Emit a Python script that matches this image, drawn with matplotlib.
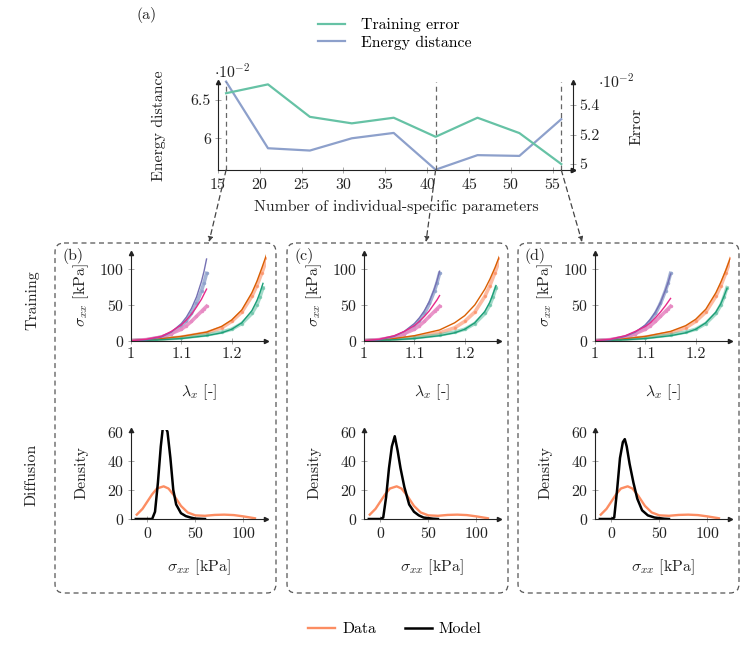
import matplotlib
matplotlib.use("Agg")
from matplotlib import pyplot as plt
from matplotlib.patches import FancyBboxPatch, ConnectionPatch
from matplotlib.lines import Line2D
from matplotlib.ticker import FuncFormatter

plt.rcParams['font.family'] = ['cmr10', 'DejaVu Serif']
plt.rcParams['mathtext.fontset'] = 'cm'
plt.rcParams['axes.formatter.use_mathtext'] = True
FS = 11.4
plt.rcParams['font.size'] = FS

W, H = 747, 648

# ---- panel (a): sweep over number of individual-specific parameters ----
n_params = [16, 21, 26, 31, 36, 41, 46, 51, 56]
energy_dist = [6.74, 5.87, 5.84, 6.00, 6.07, 5.59, 5.78, 5.77, 6.25]      # x 1e-2
train_error = [5.48, 5.54, 5.32, 5.276, 5.314, 5.185, 5.314, 5.21, 5.00]  # x 1e-2
selected = [16, 41, 56]

# ---- training curves: stretch vs stress (data shared, model per panel) ----
lam_short = [1.0, 1.03, 1.06, 1.08, 1.10, 1.11, 1.12, 1.13, 1.14, 1.145, 1.15]
lam_long = [1.0, 1.05, 1.10, 1.15, 1.18, 1.20, 1.22, 1.24, 1.25, 1.26, 1.27]
data_blue = [0, 1, 5, 10, 20, 28, 38, 52, 70, 81, 94]
data_pink = [0, 1.5, 5, 10, 16, 21, 27, 34, 41, 44.5, 48]
data_orange = [0, 2, 5, 11, 18, 27, 40, 62, 77, 95, 115]
lam_green = [1.0, 1.05, 1.10, 1.15, 1.18, 1.20, 1.22, 1.24, 1.25, 1.256, 1.262]
data_green = [0, 1.5, 4, 8, 12, 16, 24, 38, 50, 61, 74]

model_purple = {
    'b': [0, 1, 5, 12, 24, 33, 45, 61, 83, 97, 114],
    'c': [0, 1, 6, 13, 24, 32, 42, 55, 73, 84, 97],
    'd': [0, 1, 6, 12, 22, 30, 40, 53, 71, 81, 93],
}
model_magenta = {
    'b': [0, 2, 6, 13, 22, 29, 37, 47, 58, 65, 72],
    'c': [0, 2, 7, 13, 21, 27, 34, 42, 52, 57, 63],
    'd': [0, 2, 7, 13, 20, 25, 32, 40, 49, 54, 59],
}
model_orange = {
    'b': [0, 2, 6, 12, 20, 29, 43, 67, 83, 102, 122],
    'c': [0, 2, 7, 15, 25, 35, 50, 72, 86, 102, 120],
    'd': [0, 2, 6, 13, 21, 30, 44, 67, 82, 99, 118],
}
model_green = {
    'b': [0, 1, 3, 7, 11, 16, 25, 42, 56, 67, 80],
    'c': [0, 1, 3, 7, 11, 16, 25, 41, 54, 65, 77],
    'd': [0, 1, 3, 7, 11, 16, 25, 40, 52, 62, 73],
}

# ---- diffusion: density of sigma_xx ----
sig_data = [-11, -5, 0, 5, 10, 17, 22, 28, 35, 42, 50, 60, 70, 80, 90, 100, 112]
dens_data = [3, 7, 12, 17, 21, 22.5, 21, 16, 9, 4.5, 2.5, 2.2, 2.8, 3, 2.7, 1.8, 0.5]
sig_model = {
    'b': [-12, 5, 8, 11, 14, 16, 19, 21, 24, 27, 30, 35, 40, 45, 50, 60],
    'c': [-12, 0, 3, 6, 9, 12, 15, 18, 21, 25, 30, 35, 40, 45, 55, 60],
    'd': [-12, 0, 3, 6, 9, 12, 14, 16, 19, 23, 27, 32, 38, 45, 55, 60],
}
dens_model = {
    'b': [0, 0, 5, 25, 50, 62, 63, 60, 42, 20, 10, 4, 2, 1, 0.3, 0],
    'c': [0, 0, 1, 15, 35, 50, 57, 47, 35, 22, 10, 5, 2.5, 1, 0.2, 0],
    'd': [0, 0, 1, 20, 42, 53, 55, 50, 38, 25, 14, 6, 2.5, 1, 0.2, 0],
}

panels = ['b', 'c', 'd']
panel_left = {'b': 55, 'c': 287, 'd': 518}
axis_left = {'b': 131, 'c': 364, 'd': 595}
arrow_target = {'b': (209, 242), 'c': (426, 242), 'd': (582, 242)}

GREEN, BLUE, ORANGE = '#66c2a5', '#8da0cb', '#fc8d62'
TXT = '#222222'


def box(l, t, r, b):
    return [l / W, 1 - b / H, (r - l) / W, (b - t) / H]


def pgf_axes(ax, right=False):
    for s in ['top', 'right', 'left', 'bottom']:
        ax.spines[s].set_visible(False)
    ax.spines['bottom'].set_visible(True)
    side = 'right' if right else 'left'
    ax.spines[side].set_visible(True)
    for s in ['bottom', side]:
        ax.spines[s].set_color(TXT)
        ax.spines[s].set_linewidth(0.8)
    ax.tick_params(direction='inout', length=4, width=0.6, color='#999999',
                   labelcolor=TXT, labelsize=FS, pad=3)
    ax.patch.set_alpha(0)
    xa = 1 if right else 0
    ax.plot(1, 0, '>', color=TXT, ms=3, transform=ax.transAxes, clip_on=False)
    ax.plot(xa, 1, '^', color=TXT, ms=3, transform=ax.transAxes, clip_on=False)


fig = plt.figure(figsize=(W / 100, H / 100), dpi=100)

ov = fig.add_axes([0, 0, 1, 1])
ov.set_xlim(0, W)
ov.set_ylim(H, 0)
ov.axis('off')

# dashed rounded frames
for p in panels:
    l = panel_left[p]
    ov.add_patch(FancyBboxPatch((l, 243), 221, 350,
                                boxstyle='round,pad=0,rounding_size=9',
                                fill=False, ec='#555555', lw=0.9, ls=(0, (4, 3))))

ov.text(147, 15, '(a)', ha='center', va='center', color=TXT)
ov.text(32, 300, 'Training', rotation=90, ha='center', va='center', color=TXT)
ov.text(32, 475, 'Diffusion', rotation=90, ha='center', va='center', color=TXT)

# ---- top axes ----
ax1 = fig.add_axes(box(217.7, 82, 572.7, 170))
ax2 = ax1.twinx()
ax1.plot(n_params, energy_dist, color=BLUE, lw=1.6, clip_on=False)
ax2.plot(n_params, train_error, color=GREEN, lw=1.6, clip_on=False)
ax1.set_xlim(15, 57.36)
ax1.set_ylim(5.586, 6.735)
ax2.set_ylim(4.96, 5.556)
ax1.set_xticks([15, 20, 25, 30, 35, 40, 45, 50, 55])
ax1.set_yticks([6, 6.5])
ax2.set_yticks([5, 5.2, 5.4])
fmt = FuncFormatter(lambda v, pos: '%g' % v)
ax1.yaxis.set_major_formatter(fmt)
ax2.yaxis.set_major_formatter(fmt)
pgf_axes(ax1)
pgf_axes(ax2, right=True)
ax2.spines['bottom'].set_visible(False)
for n in selected:
    ax1.axvline(n, color='#666666', lw=0.9, ls=(0, (4, 3)))

ov.text(396, 207, 'Number of individual-specific parameters', ha='center', va='center', color=TXT)
ov.text(159, 126, 'Energy distance', rotation=90, ha='center', va='center', color=TXT)
ov.text(637, 126, 'Error', rotation=90, ha='center', va='center', color=TXT)
ax1.text(-0.01, 1.02, r'$\cdot10^{-2}$', transform=ax1.transAxes, ha='left', va='bottom', color=TXT)
ax2.text(1.07, 0.90, r'$\cdot10^{-2}$', transform=ax2.transAxes, ha='left', va='bottom', color=TXT)

top_handles = [Line2D([], [], color=GREEN, lw=1.6), Line2D([], [], color=BLUE, lw=1.6)]
fig.legend(top_handles, ['Training error', 'Energy distance'], loc='center',
           bbox_to_anchor=(395 / W, 1 - 34 / H), frameon=False, handlelength=1.7,
           labelspacing=0.2, handletextpad=1.0, fontsize=FS)

for p, n in zip(panels, selected):
    con = ConnectionPatch(xyA=(n, 5.586), coordsA=ax1.transData,
                          xyB=arrow_target[p], coordsB=ov.transData,
                          arrowstyle='-|>', mutation_scale=7, color='#444444',
                          lw=0.9, ls=(0, (4, 3)))
    fig.add_artist(con)

# ---- lower panels ----
for p in panels:
    l = panel_left[p]
    a = axis_left[p]
    ov.text(l + 7, 256, '(' + p + ')', ha='left', va='center', color=TXT)

    axt = fig.add_axes(box(a, 253.3, a + 135, 340.7))
    axt.plot(lam_long, data_orange, color=ORANGE, lw=2.6, alpha=0.6, marker='.', ms=3)
    axt.plot(lam_green, data_green, color=GREEN, lw=2.6, alpha=0.6, marker='.', ms=3)
    axt.plot(lam_short, data_blue, color=BLUE, lw=2.6, alpha=0.8, marker='.', ms=3)
    axt.plot(lam_short, data_pink, color='#e78ac3', lw=2.6, alpha=0.9, marker='.', ms=3)
    axt.plot(lam_long, model_orange[p], color='#d95f02', lw=1.0)
    axt.plot(lam_green, model_green[p], color='#1b9e77', lw=1.0)
    axt.plot(lam_short, model_purple[p], color='#7570b3', lw=1.0)
    axt.plot(lam_short, model_magenta[p], color='#e7298a', lw=1.0)
    axt.set_xlim(1, 1.268)
    axt.set_ylim(0, 122)
    axt.set_xticks([1, 1.1, 1.2])
    axt.set_yticks([0, 50, 100])
    axt.xaxis.set_major_formatter(fmt)
    pgf_axes(axt)
    axt.text(-0.37, 0.52, r'$\sigma_{xx}$ [kPa]', transform=axt.transAxes, rotation=90,
             ha='center', va='center', color=TXT)
    axt.text(0.5, -0.59, r'$\lambda_x$ [-]', transform=axt.transAxes,
             ha='center', va='center', color=TXT)

    axd = fig.add_axes(box(a, 430, a + 135, 519))
    axd.plot(sig_data, dens_data, color=ORANGE, lw=1.7)
    axd.plot(sig_model[p], dens_model[p], color='black', lw=1.8)
    axd.set_xlim(-17, 123.5)
    axd.set_ylim(0, 61.3)
    axd.set_xticks([0, 50, 100])
    axd.set_yticks([0, 20, 40, 60])
    pgf_axes(axd)
    axd.text(-0.37, 0.52, 'Density', transform=axd.transAxes, rotation=90,
             ha='center', va='center', color=TXT)
    axd.text(0.5, -0.54, r'$\sigma_{xx}$ [kPa]', transform=axd.transAxes,
             ha='center', va='center', color=TXT)

bottom_handles = [Line2D([], [], color=ORANGE, lw=1.7), Line2D([], [], color='black', lw=1.8)]
fig.legend(bottom_handles, ['Data', 'Model'], loc='center', ncol=2,
           bbox_to_anchor=(395 / W, 1 - 629 / H), frameon=False, handlelength=1.7,
           columnspacing=1.8, handletextpad=0.45, fontsize=FS)

fig.savefig('out.png', dpi=100)
